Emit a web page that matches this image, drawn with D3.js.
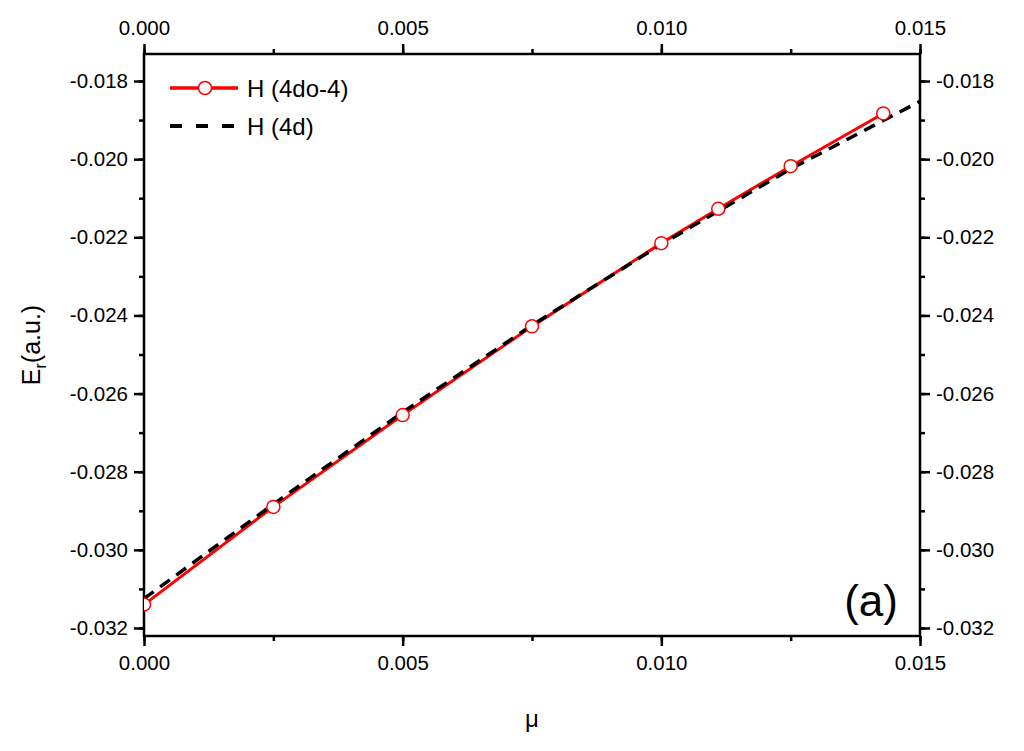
<!DOCTYPE html><html><head><meta charset="utf-8"><script src="https://d3js.org/d3.v7.min.js"></script>
<style>body{margin:0;background:#fff}text{font-family:"Liberation Sans",Arial,sans-serif}</style></head><body>
<svg id="c" width="1024" height="751"></svg>
<script>
const muRed=[0,0.0025,0.005,0.0075,0.01,0.0111,0.0125,0.01429];
const eRed=[-0.0314,-0.0289,-0.02655,-0.02428,-0.02215,-0.02127,-0.02018,-0.01883];
const muBlack=[0,0.0025,0.005,0.0075,0.01,0.0125,0.015];
const eBlack=[-0.03125,-0.02883,-0.02648,-0.02425,-0.02218,-0.02025,-0.01852];
const xTicks=[0,0.005,0.010,0.015];
const yTicks=[-0.032,-0.030,-0.028,-0.026,-0.024,-0.022,-0.020,-0.018];
const svg=d3.select("#c");
const L=144,R=920,T=54,B=636;
const x=d3.scaleLinear().domain([0,0.015]).range([L,R]);
const y=d3.scaleLinear().domain([-0.032,-0.018]).range([628,81]);
const fx=d=>d3.format(".3f")(d).replace("−","-");
function ax(g,axis){g.call(axis);g.select(".domain").remove();g.selectAll("line").attr("stroke","#000").attr("stroke-width",2.5);g.selectAll("text").attr("font-size",20.5).attr("fill","#000");}
const minorX=d3.range(0,0.01501,0.0025), minorY=d3.range(-0.032,-0.0173,0.001);
[[d3.axisBottom,B],[d3.axisTop,T]].forEach(([f,p])=>{
 svg.append("g").attr("transform",`translate(0,${p})`).call(g=>ax(g,f(x).tickValues(minorX).tickSize(5).tickFormat("")));
 svg.append("g").attr("transform",`translate(0,${p})`).call(g=>ax(g,f(x).tickValues(xTicks).tickSize(10).tickPadding(9).tickFormat(fx)));
});
[[d3.axisLeft,L],[d3.axisRight,R]].forEach(([f,p])=>{
 svg.append("g").attr("transform",`translate(${p},0)`).call(g=>ax(g,f(y).tickValues(minorY).tickSize(5).tickFormat("")));
 svg.append("g").attr("transform",`translate(${p},0)`).call(g=>ax(g,f(y).tickValues(yTicks).tickSize(10).tickPadding(6).tickFormat(fx)));
});
svg.append("rect").attr("x",L).attr("y",T).attr("width",R-L).attr("height",B-T).attr("fill","none").attr("stroke","#000").attr("stroke-width",2.5);
svg.append("clipPath").attr("id","cp").append("rect").attr("x",L).attr("y",T).attr("width",R-L).attr("height",B-T);
const line=d3.line().x(d=>x(d[0])).y(d=>y(d[1]));
const g=svg.append("g").attr("clip-path","url(#cp)");
g.append("path").datum(muRed.map((m,i)=>[m,eRed[i]])).attr("d",line).attr("fill","none").attr("stroke","#f00").attr("stroke-width",3);
g.append("path").datum(muBlack.map((m,i)=>[m,eBlack[i]])).attr("d",line).attr("fill","none").attr("stroke","#000").attr("stroke-width",3.5).attr("stroke-dasharray","12,8");
g.selectAll("circle").data(muRed).join("circle").attr("cx",d=>x(d)).attr("cy",(d,i)=>y(eRed[i])).attr("r",6.5).attr("fill","#fff").attr("stroke","#f00").attr("stroke-width",1.5);
svg.append("line").attr("x1",170).attr("x2",238).attr("y1",88).attr("y2",88).attr("stroke","#f00").attr("stroke-width",3.5);
svg.append("circle").attr("cx",205).attr("cy",88).attr("r",6.5).attr("fill","#fff").attr("stroke","#f00").attr("stroke-width",1.5);
svg.append("line").attr("x1",170).attr("x2",238).attr("y1",126).attr("y2",126).attr("stroke","#000").attr("stroke-width",4).attr("stroke-dasharray","12,14");
svg.append("text").attr("x",247).attr("y",97).attr("font-size",24).text("H (4do-4)");
svg.append("text").attr("x",247).attr("y",135).attr("font-size",24).text("H (4d)");
svg.append("text").attr("x",898).attr("y",616).attr("font-size",44).attr("text-anchor","end").text("(a)");
svg.append("text").attr("x",532).attr("y",727).attr("font-size",24).attr("text-anchor","middle").text("μ");
const yl=svg.append("text").attr("transform","translate(40,345) rotate(-90)").attr("font-size",25).attr("text-anchor","middle");
yl.append("tspan").text("E");yl.append("tspan").attr("font-size",16).attr("dy",6).text("r");yl.append("tspan").attr("dy",-6).text("(a.u.)");
</script></body></html>
